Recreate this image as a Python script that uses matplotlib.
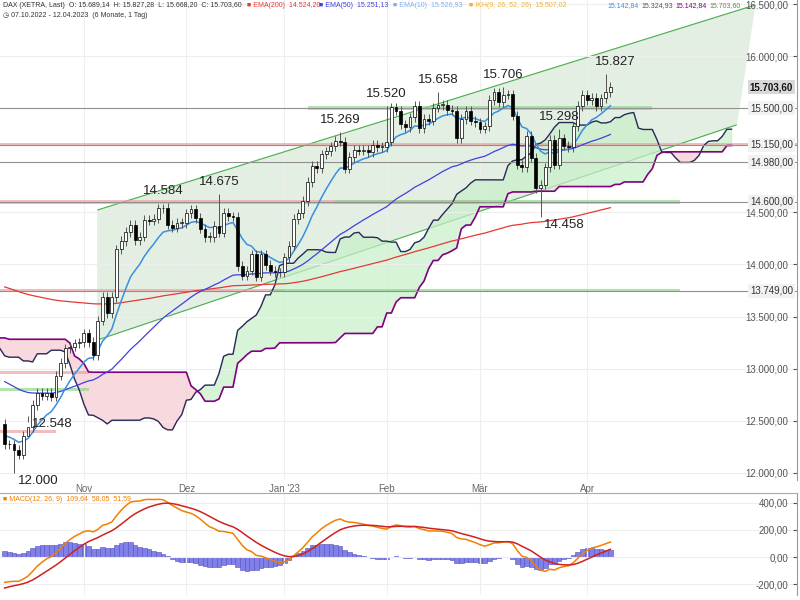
import numpy as np
import pandas as pd
import matplotlib
matplotlib.use("Agg")
import matplotlib.pyplot as plt
from matplotlib.ticker import FuncFormatter

plt.rcParams['font.family'] = ['Liberation Sans', 'DejaVu Sans']

# Vorlauf (Aug - 6. Okt 2022), nur fuer die Indikatoren
pre_closes = [13480, 13449, 13587, 13662, 13574, 13687, 13535, 13534, 13700, 13795,
              13816, 13910, 13959, 13697, 13626, 13544, 13194, 13230, 13194, 13271,
              12961, 13127, 12835, 12630, 12630, 12604, 12871, 12760, 12915, 13088,
              12954, 13402, 13188, 12956, 12741, 12863, 12767, 12671, 12531, 12284,
              12227, 12139, 11976, 11971, 12114, 11975, 12209, 12670, 12517, 12470]

# sichtbare Tageskerzen 07.10.2022 - 12.04.2023
closes = [12273, 12272, 12220, 12172, 12355, 12438, 12649, 12765, 12741, 12767, 12731,
          12931, 13052, 13195, 13211, 13243, 13253,
          13338, 13256, 13130, 13460, 13688, 13533, 13688, 14146, 14225, 14313, 14378,
          14234, 14266, 14431, 14422, 14440, 14539, 14541, 14383, 14355, 14397, 14397,
          14490, 14529, 14448, 14343, 14261, 14264, 14370, 14306, 14497, 14461, 14460,
          13987, 13893, 13942, 14097, 13884, 14098, 13995, 13941, 13925, 13924,
          14069, 14181, 14436, 14490, 14610, 14792, 14947, 14924, 15058, 15087, 15134,
          15187, 15181, 14920, 15033, 15103, 15093, 15102, 15081, 15150, 15126, 15128,
          15180, 15509, 15476, 15345, 15321, 15412, 15523, 15307, 15397, 15380, 15506,
          15532, 15534, 15482, 15478, 15210, 15398, 15475, 15381, 15365,
          15305, 15327, 15578, 15654, 15559, 15632, 15633, 15428, 14959, 14932, 15233,
          15026, 14735, 14768, 14933, 15195, 14958, 15210, 15142, 15128, 15328, 15522, 15629,
          15580, 15603, 15520, 15597, 15655, 15704]
wick_up = 45
wick_dn = 45
# markierte Extremwerte (Index -> Wert)
extreme_highs = {34: 14584, 46: 14675, 72: 15269, 82: 15520, 93: 15658, 107: 15706, 119: 15298, 129: 15827}
extreme_lows = {2: 12000, 5: 12548, 115: 14458}
# (Index, Wert, Text, Position)
peak_labels = [(2, 12000, "12.000", "right"), (5, 12548, "12.548", "right"),
               (34, 14584, "14.584", "above"), (46, 14675, "14.675", "above"),
               (72, 15269, "15.269", "above"), (82, 15520, "15.520", "above"),
               (93, 15658, "15.658", "above"), (107, 15706, "15.706", "above"),
               (119, 15298, "15.298", "above"), (115, 14458, "14.458", "right"),
               (131, 15827, "15.827", "above")]

# Trendkanal (Index, Kurs)
channel_lower = [(20, 13276), (157, 15340)]
channel_upper = [(20, 14524), (161, 16491)]

# horizontale Marken
levels = [15500, 15150, 14980, 14600, 13749]
red_zones = [(15150, -1, 175), (14600, -1, 102), (13749, -1, 60), (12960, -1, 18), (12400, -1, 11)]
green_zones = [(15500, 65, 139), (14600, 71, 145), (13749, 57, 145), (12800, -1, 18)]

month_pos = [17, 39, 60, 82, 102, 125]
month_names = ["Nov", "Dez", "Jan '23", "Feb", "Mär", "Apr"]

all_c = pd.Series(pre_closes + closes, dtype=float)
npre = len(pre_closes)
n = len(closes)
opens = [pre_closes[-1]] + closes[:-1]
highs = [max(o, c) + wick_up for o, c in zip(opens, closes)]
lows = [min(o, c) - wick_dn for o, c in zip(opens, closes)]
for k, v in extreme_highs.items():
    highs[k] = v
for k, v in extreme_lows.items():
    lows[k] = v
all_h = pd.Series([c + 60 for c in pre_closes] + highs)
all_l = pd.Series([c - 60 for c in pre_closes] + lows)

def ema(s, span):
    return s.ewm(span=span, adjust=False).mean()

ema10 = ema(all_c, 10).values[npre:]
ema50 = (pd.Series([12900.0] + list(all_c[npre:])).ewm(span=50, adjust=False).mean()).values[1:]
ema200 = (pd.Series([13800.0] + list(all_c[npre:])).ewm(span=200, adjust=False).mean()).values[1:]

tenkan = (all_h.rolling(9, min_periods=1).max() + all_l.rolling(9, min_periods=1).min()) / 2
kijun = (all_h.rolling(26, min_periods=1).max() + all_l.rolling(26, min_periods=1).min()) / 2
spanA = ((tenkan + kijun) / 2).values
spanB = ((all_h.rolling(52, min_periods=1).max() + all_l.rolling(52, min_periods=1).min()) / 2).values
# um 26 verschoben
xs_cloud = np.arange(len(all_c)) - npre + 26
mask = xs_cloud >= -1
xc, A, B = xs_cloud[mask], spanA[mask], spanB[mask]

macd = (ema(all_c, 12) - ema(all_c, 26)).values
signal = pd.Series(macd).ewm(span=9, adjust=False).mean().values
hist = macd - signal
macd, signal, hist = macd[npre:], signal[npre:], hist[npre:]

fig = plt.figure(figsize=(8, 6), dpi=100)
ax = fig.add_axes([0.0, 0.2, 0.996, 0.8])
axm = fig.add_axes([0.0, 0.008, 0.996, 0.17])
xmax = 170

# Kanal
ax.fill([channel_lower[0][0], channel_lower[1][0], channel_upper[1][0], channel_upper[0][0]],
        [channel_lower[0][1], channel_lower[1][1], channel_upper[1][1], channel_upper[0][1]],
        color="#e3efe3", zorder=0)
ax.plot([p[0] for p in channel_lower], [p[1] for p in channel_lower], color="#4caf50", lw=0.8, zorder=1)
ax.plot([p[0] for p in channel_upper], [p[1] for p in channel_upper], color="#4caf50", lw=0.8, zorder=1)

# Wolke
ax.fill_between(xc, A, B, where=A >= B, color="#c8f0c8", alpha=0.7, interpolate=True, zorder=1)
ax.fill_between(xc, A, B, where=A < B, color="#f5d0d6", alpha=0.8, interpolate=True, zorder=1)
ax.plot(xc, A, color="#2a2a5a", lw=1.0, zorder=2)
ax.plot(xc, B, color="#800080", lw=1.2, zorder=2)

for lv, x0, x1 in red_zones:
    ax.fill_between([x0, x1], lv - 15, lv + 15, color="#f0a0a0", alpha=0.7, zorder=1, lw=0)
for lv, x0, x1 in green_zones:
    ax.fill_between([x0, x1], lv - 18, lv + 18, color="#8fd88f", alpha=0.7, zorder=1, lw=0)
for lv in levels:
    ax.axhline(lv, color="#909090", lw=0.8, zorder=2)

x = np.arange(n)
ax.plot(x, ema200, color="#e53935", lw=0.9, zorder=3)
ax.plot(x, ema50, color="#4040e0", lw=0.9, zorder=3)
ax.plot(x, ema10, color="#3a8fe0", lw=1.1, zorder=3)

for i in range(n):
    o, c = opens[i], closes[i]
    ax.vlines(i, lows[i], highs[i], color="#555555", lw=0.7, zorder=4)
    up = c >= o
    ax.bar(i, max(abs(c - o), 8), bottom=min(o, c), width=0.6,
           color="white" if up else "black", edgecolor="black", lw=0.5, zorder=5)

for i, v, t, pos in peak_labels:
    if pos == "above":
        ax.text(i, v + 60, t, ha="center", va="bottom", fontsize=9.5, color="#222222", zorder=6)
    else:
        ax.text(i + 0.8, v - 20, t, ha="left", va="top", fontsize=9.5, color="#222222", zorder=6)

ax.set_xlim(-1, xmax)
ax.set_ylim(11930, 16540)
fmt = FuncFormatter(lambda v, p: f"{v:,.2f}".replace(",", "X").replace(".", ",").replace("X", "."))
ax.yaxis.tick_right()
ax.set_yticks([12000, 12500, 13000, 13500, 14000, 14500, 16000, 16500])
ax.yaxis.set_major_formatter(fmt)
ax.tick_params(axis="y", direction="in", pad=-6, labelsize=7, colors="#555555", length=3)
for lb in ax.get_yticklabels():
    lb.set_ha("right")
ax.grid(axis="y", color="#eeeeee", lw=0.8, zorder=0)
ax.set_xticks(month_pos)
ax.set_xticklabels([])
ax.tick_params(axis="x", length=0)
for mp, mn in zip(month_pos, month_names):
    ax.axvline(mp, color="#eeeeee", lw=0.8, zorder=0)
    fig.text((mp + 1) / (xmax + 1) * 0.996, 0.193, mn, ha="center", va="top", fontsize=7, color="#666666")

box_levels = [(15703.60, "15.703,60", True), (15500, "15.500,00", False),
              (15150, "15.150,00", False), (14980, "14.980,00", False),
              (14600, "14.600,00", False), (13749, "13.749,00", False)]
for v, t, cur in box_levels:
    ax.text(0.995, v, t, transform=ax.get_yaxis_transform(), ha="right", va="center", fontsize=7,
            color="#111111" if cur else "#333333", fontweight="bold" if cur else "normal",
            bbox=dict(boxstyle="square,pad=0.2", fc="#d8d8d8" if cur else "#f2f2f2", ec="none"), zorder=7)
for s in ["top", "left", "bottom"]:
    ax.spines[s].set_visible(False)
ax.spines["right"].set_color("#999999")

# Kopfzeile
hs = 5.0
ax.text(0.004, 0.996, "DAX (XETRA, Last)  O: 15.689,14  H: 15.827,28  L: 15.668,20  C: 15.703,60",
        transform=ax.transAxes, fontsize=hs, va="top", color="#333333")
hdr = [("■ EMA(200)  14.524,20", "#e53935", 0.31), ("■ EMA(50)  15.251,13", "#4040e0", 0.4),
       ("■ EMA(10)  15.526,93", "#7fb2f0", 0.493), ("■ IKH(9, 26, 52, 26)  15.507,02", "#f0b030", 0.588),
       ("15.142,84", "#3a8fe0", 0.762), ("15.324,93", "#555555", 0.805), ("15.142,84", "#800080", 0.848),
       ("15.703,60", "#6a8a40", 0.891)]
for t, c, px in hdr:
    ax.text(px, 0.996, t, transform=ax.transAxes, fontsize=hs, va="top", color=c, zorder=8)
ax.text(0.004, 0.976, "◷ 07.10.2022 - 12.04.2023  (6 Monate, 1 Tag)", transform=ax.transAxes,
        fontsize=hs, va="top", color="#333333")

# MACD
axm.bar(x, hist, width=1.0, color="#8080e8", edgecolor="#5050c0", lw=0.4)
axm.plot(x, macd, color="#f08000", lw=1.1)
axm.plot(x, signal, color="#d02020", lw=1.1)
axm.set_xlim(-1, xmax)
axm.set_ylim(-280, 470)
axm.yaxis.tick_right()
axm.set_yticks([-200, 0, 200, 400])
axm.yaxis.set_major_formatter(fmt)
axm.tick_params(axis="y", direction="in", pad=-6, labelsize=7, colors="#555555", length=3)
for lb in axm.get_yticklabels():
    lb.set_ha("right")
axm.grid(axis="y", color="#eeeeee", lw=0.8)
axm.set_xticks(month_pos)
axm.set_xticklabels([])
axm.tick_params(axis="x", length=0)
axm.grid(axis="x", color="#eeeeee", lw=0.8)
for s in ["left", "bottom"]:
    axm.spines[s].set_visible(False)
axm.spines["top"].set_color("#aaaaaa")
axm.spines["right"].set_color("#999999")
axm.text(0.004, 0.97, "■ MACD(12, 26, 9)  109,64  58,05  51,59", transform=axm.transAxes,
         fontsize=hs, va="top", color="#f08000")

fig.savefig("out.png", dpi=100)
